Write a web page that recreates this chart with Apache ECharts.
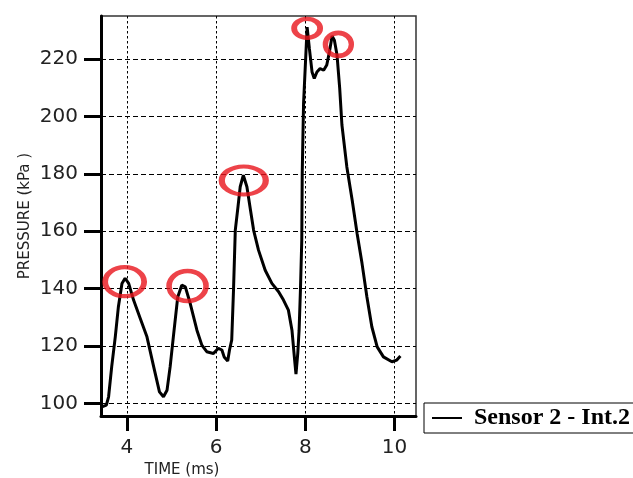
<!DOCTYPE html>
<html>
<head>
<meta charset="utf-8">
<script src="https://cdn.jsdelivr.net/npm/echarts@6/dist/echarts.min.js"></script>
<style>
    html, body { margin: 0; padding: 0; background: #fff; }
    #chart { width: 633px; height: 478px; }
</style>
</head>
<body>
<div id="chart"></div>
<script>
// values
const timeMs = [
    3.44, 3.54, 3.59, 3.66, 3.74, 3.81, 3.89, 3.96, 4.04, 4.15,
    4.30, 4.45, 4.60, 4.73, 4.82, 4.90, 4.97, 5.05, 5.14, 5.23,
    5.31, 5.42, 5.57, 5.68, 5.79, 5.94, 6.05, 6.13, 6.18, 6.26,
    6.30, 6.35, 6.39, 6.43, 6.49, 6.54, 6.61, 6.69, 6.77, 6.84,
    6.95, 7.10, 7.25, 7.40, 7.51, 7.62, 7.70, 7.76, 7.79, 7.83,
    7.86, 7.89, 7.92, 7.93, 7.96, 8.04, 8.09, 8.15, 8.20, 8.26,
    8.33, 8.41, 8.48, 8.54, 8.60, 8.65, 8.71, 8.77, 8.82, 8.93,
    9.05, 9.16, 9.27, 9.38, 9.49, 9.61, 9.75, 9.94, 10.05, 10.13
];
const pressureKpa = [
    98.8, 99.4, 102.3, 112.8, 123.2, 133.7, 141.8, 143.6, 141.8, 136.0,
    129.6, 123.2, 112.8, 104.0, 102.3, 104.6, 112.8, 124.4, 137.1, 141.2,
    140.6, 134.8, 125.5, 120.3, 118.0, 117.4, 119.2, 118.6, 116.2, 114.8,
    118.6, 122.1, 139.5, 160.4, 168.5, 175.5, 179.5, 175.5, 167.4, 160.4,
    153.4, 146.4, 141.8, 138.9, 136.0, 132.5, 125.5, 115.1, 110.2, 117.4,
    125.5, 139.5, 156.9, 180.2, 204.6, 231.1, 223.7, 215.5, 213.2, 215.5,
    216.7, 216.1, 217.9, 222.5, 228.0, 226.6, 221.4, 209.8, 197.0, 182.4,
    170.8, 159.2, 148.8, 137.1, 126.7, 119.7, 116.2, 114.5, 115.1, 116.5
];

// red rings drawn around the peaks
const peakTime = [3.95, 5.36, 6.62, 8.04, 8.74];
const peakPressure = [142.4, 140.9, 177.7, 230.7, 225.1];

const timeTicks = [4, 6, 8, 10];
const pressureTicks = [100, 120, 140, 160, 180, 200, 220];

const seriesName = 'Sensor 2 - Int.2';

const ringSizes = [[39, 29], [37, 30], [44, 28], [26, 19], [26, 23]];
const textColor = '#222';

const chart = echarts.init(document.getElementById('chart'));

chart.setOption({
    animation: false,
    grid: {
        left: 101,
        right: 217,
        top: 16,
        bottom: 62,
        show: true,
        borderColor: '#333',
        borderWidth: 1.5,
    },
    legend: {
        data: [seriesName],
        left: 424,
        top: 403,
        padding: [3, 60, 3, 8],
        borderColor: '#000',
        borderWidth: 1,
        icon: 'rect',
        itemWidth: 30,
        itemHeight: 2,
        textStyle: {
            fontFamily: 'Liberation Serif',
            fontWeight: 'bold',
            fontSize: 24,
            color: '#000',
            padding: [0, 0, 0, 7],
        },
    },
    graphic: [
        {
            type: 'text',
            x: 182,
            y: 470,
            style: {
                text: 'TIME (ms)',
                font: '15px "DejaVu Sans"',
                fill: textColor,
                textAlign: 'center',
                textVerticalAlign: 'middle',
            },
        },
    ],
    xAxis: {
        type: 'value',
        min: 3.42,
        max: 10.48,
        axisLine: { show: true, lineStyle: { color: '#000', width: 3 } },
        axisTick: {
            show: true,
            customValues: timeTicks,
            length: 15,
            lineStyle: { color: '#000', width: 3 },
        },
        axisLabel: {
            customValues: timeTicks,
            margin: 22,
            fontFamily: 'DejaVu Sans',
            fontSize: 20,
            color: textColor,
        },
        splitLine: {
            show: true,
            lineStyle: { color: '#000', width: 1, type: [2.5, 2.5] },
        },
    },
    yAxis: {
        type: 'value',
        min: 95.6,
        max: 235,
        name: 'PRESSURE (kPa )',
        nameLocation: 'middle',
        nameGap: 68,
        nameTextStyle: {
            fontFamily: 'DejaVu Sans',
            fontSize: 15,
            color: textColor,
        },
        axisLine: { show: true, lineStyle: { color: '#000', width: 3 } },
        axisTick: {
            show: true,
            customValues: pressureTicks,
            length: 17,
            lineStyle: { color: '#000', width: 3 },
        },
        axisLabel: {
            customValues: pressureTicks,
            margin: 23,
            fontFamily: 'DejaVu Sans',
            fontSize: 20,
            color: textColor,
        },
        splitLine: {
            show: true,
            lineStyle: { color: '#000', width: 1, type: [5, 3] },
        },
    },
    series: [
        {
            name: seriesName,
            type: 'line',
            symbol: 'none',
            data: timeMs.map((t, i) => [t, pressureKpa[i]]),
            lineStyle: { color: '#000', width: 3 },
            itemStyle: { color: '#000' },
            z: 3,
        },
        {
            name: 'peaks',
            type: 'scatter',
            symbol: 'circle',
            data: peakTime.map((t, i) => ({
                value: [t, peakPressure[i]],
                symbolSize: ringSizes[i],
            })),
            itemStyle: {
                color: 'rgba(0,0,0,0)',
                borderColor: '#e8141c',
                borderWidth: 5,
            },
            silent: true,
            z: 4,
        },
    ],
});
</script>
</body>
</html>
